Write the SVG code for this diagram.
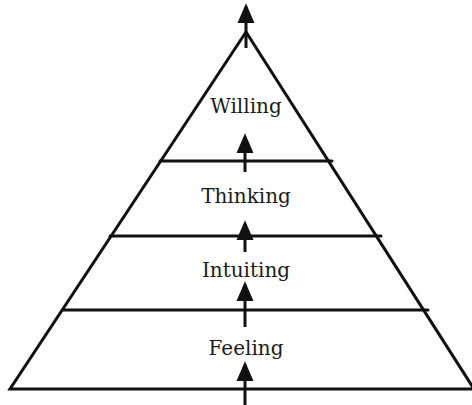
<svg xmlns="http://www.w3.org/2000/svg" width="472" height="405" viewBox="0 0 472 405">
<style>
.ln{stroke:#111;stroke-width:3;fill:none;stroke-linecap:round;stroke-linejoin:miter}
.ar{stroke:#111;stroke-width:3;fill:none;marker-end:url(#ah)}
.lb{font-family:"DejaVu Serif","Liberation Serif",serif;font-size:20px;fill:#1a1a1a;text-anchor:middle}
</style>
<defs>
<marker id="ah" markerUnits="userSpaceOnUse" markerWidth="20" markerHeight="22" refX="18" refY="9.5" orient="auto" viewBox="0 0 22 19">
<path d="M0,0 L22,9.5 L0,19 Z" fill="#111"/>
</marker>
</defs>
<g id="pyramid">
<path class="ln" d="M246,32 L10,389 L474,389 Z"/>
<line class="ln" x1="160" y1="161" x2="332" y2="161"/>
<line class="ln" x1="110" y1="236" x2="381" y2="236"/>
<line class="ln" x1="63" y1="310" x2="428" y2="310"/>
</g>
<g id="willing"><text class="lb" x="246" y="113">Willing</text></g>
<g id="thinking"><text class="lb" x="246" y="203">Thinking</text></g>
<g id="intuiting"><text class="lb" x="246" y="277">Intuiting</text></g>
<g id="feeling"><text class="lb" x="246" y="355">Feeling</text></g>
<g id="connectors">
<line class="ar" x1="246" y1="48" x2="246" y2="7"/>
<line class="ar" x1="245" y1="172" x2="245" y2="137"/>
<line class="ar" x1="245" y1="252" x2="245" y2="224"/>
<line class="ar" x1="245" y1="327" x2="245" y2="285"/>
<line class="ar" x1="245" y1="405" x2="245" y2="365"/>
</g>
</svg>
